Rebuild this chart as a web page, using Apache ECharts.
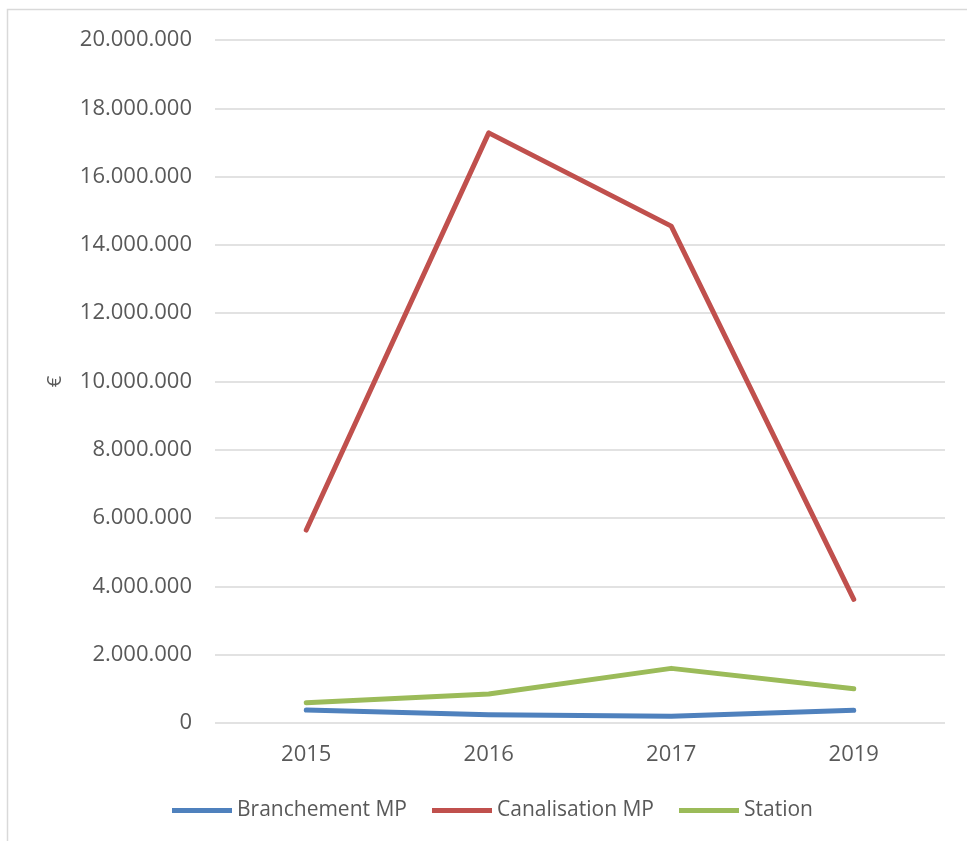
<!DOCTYPE html>
<html><head><meta charset="utf-8">
<script src="https://cdn.jsdelivr.net/npm/echarts@6/dist/echarts.min.js"></script>
<style>html,body{margin:0;padding:0;background:#fff}#c{width:967px;height:841px}</style>
</head><body><div id="c"></div>
<script>
const categories = ['2015', '2016', '2017', '2019'];
const branchement = [380000, 240000, 200000, 370000];
const canalisation = [5650000, 17280000, 14550000, 3620000];
const station = [590000, 850000, 1600000, 1000000];
const seriesNames = ['Branchement MP', 'Canalisation MP', 'Station'];
const colors = ['#4f81bd', '#c0504d', '#9bbb59'];

const chart = echarts.init(document.getElementById('c'));
const font = '"Open Sans", "Liberation Sans", sans-serif';
function fmt(v) { return String(v).replace(/\B(?=(\d{3})+(?!\d))/g, '.'); }
function mk(name, data, color) {
  return { name, type: 'line', data, symbol: 'none', smooth: false,
    lineStyle: { color, width: 5, cap: 'round', join: 'round' }, itemStyle: { color } };
}
chart.setOption({
  animation: false,
  graphic: [{ type: 'rect', shape: { x: 7.5, y: 9.5, width: 980, height: 860 },
    style: { fill: 'none', stroke: '#d9d9d9', lineWidth: 1.5 }, silent: true }],
  grid: { left: 215, right: 22, top: 40, bottom: 118, containLabel: false },
  legend: { top: 795, left: 167, icon: 'rect', itemWidth: 60, itemHeight: 5, itemGap: 25,
    data: seriesNames, textStyle: { fontFamily: font, fontSize: 21, color: '#595959' } },
  xAxis: { type: 'category', data: categories, boundaryGap: true,
    axisLine: { show: false }, axisTick: { show: false },
    axisLabel: { margin: 21, fontFamily: font, fontSize: 22, color: '#595959' } },
  yAxis: { type: 'value', min: 0, max: 20000000, interval: 2000000,
    name: '€', nameLocation: 'middle', nameGap: 150, nameRotate: 90,
    nameTextStyle: { fontFamily: font, fontSize: 20, color: '#595959' },
    axisLine: { show: false }, axisTick: { show: false },
    splitLine: { lineStyle: { color: '#d9d9d9', width: 1.5 } },
    axisLabel: { margin: 23, fontFamily: font, fontSize: 22, color: '#595959', formatter: fmt } },
  series: [mk(seriesNames[0], branchement, colors[0]), mk(seriesNames[1], canalisation, colors[1]), mk(seriesNames[2], station, colors[2])]
});
</script></body></html>
